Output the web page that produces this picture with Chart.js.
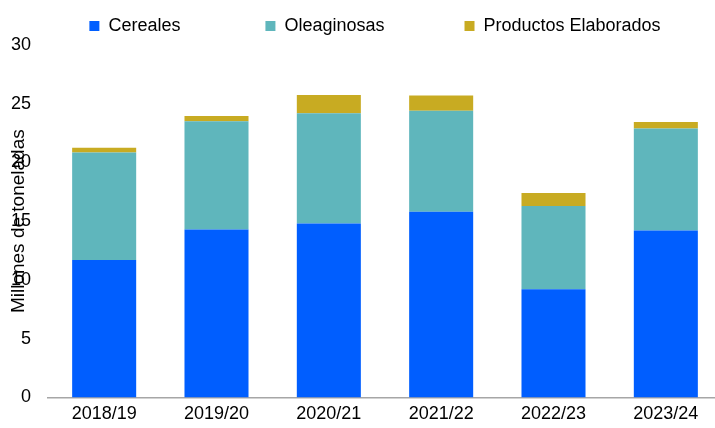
<!DOCTYPE html>
<html>
<head>
<meta charset="utf-8">
<script src="https://cdn.jsdelivr.net/npm/chart.js@4"></script>
<style>
    html, body { margin: 0; padding: 0; background: #fff; overflow: hidden; }
    #wrap { width: 722px; height: 428px; }
</style>
</head>
<body>
<div id="wrap"><canvas id="export-chart"></canvas></div>
<script>
// Exportaciones por campaña (millones de toneladas)
const campaigns = ['2018/19', '2019/20', '2020/21', '2021/22', '2022/23', '2023/24'];
const cereales = [11.7, 14.3, 14.8, 15.8, 9.2, 14.2];
const oleaginosas = [9.15, 9.2, 9.4, 8.6, 7.1, 8.7];
const elaborados = [0.4, 0.45, 1.55, 1.3, 1.1, 0.55];
const yTicks = [0, 5, 10, 15, 20, 25, 30];
const yTitle = 'Millones de toneladas';

// spacing between legend entries, as trailing blanks
const legendGaps = [15, 14, 4];

const fontFamily = '"Liberation Sans", Arial, sans-serif';

// y title overlaps the tick labels in the original, so it is drawn by hand
const yTitlePlugin = {
    id: 'yTitle',
    afterDraw(chart) {
        const ctx = chart.ctx;
        const area = chart.chartArea;
        ctx.save();
        ctx.font = '19px ' + fontFamily;
        ctx.fillStyle = '#000';
        ctx.textAlign = 'center';
        ctx.textBaseline = 'middle';
        ctx.translate(19, (area.top + area.bottom) / 2);
        ctx.rotate(-Math.PI / 2);
        ctx.fillText(yTitle, 0, 0);
        ctx.restore();
    }
};

const ctx = document.getElementById('export-chart').getContext('2d');

new Chart(ctx, {
    type: 'bar',
    data: {
        labels: campaigns,
        datasets: [{
            label: 'Cereales',
            data: cereales,
            backgroundColor: '#005EFF'
        }, {
            label: 'Oleaginosas',
            data: oleaginosas,
            backgroundColor: '#5FB6BC'
        }, {
            label: 'Productos Elaborados',
            data: elaborados,
            backgroundColor: '#C8AB22'
        }]
    },
    options: {
        responsive: true,
        maintainAspectRatio: false,
        animation: false,
        datasets: {
            bar: { barPercentage: 0.57, categoryPercentage: 1 }
        },
        layout: {
            padding: { top: 7, left: 11, right: 0, bottom: -3 }
        },
        plugins: {
            legend: {
                display: true,
                position: 'top',
                fullSize: false,
                labels: {
                    color: '#000',
                    font: { family: fontFamily, size: 18 },
                    boxWidth: 10,
                    boxHeight: 10,
                    padding: 10,
                    generateLabels(chart) {
                        const items = Chart.defaults.plugins.legend.labels.generateLabels(chart);
                        items.forEach((item, i) => {
                            item.text = item.text + ' '.repeat(legendGaps[i]);
                            item.lineWidth = 0;
                        });
                        return items;
                    }
                }
            },
            tooltip: { enabled: false }
        },
        scales: {
            x: {
                stacked: true,
                grid: { display: false, drawTicks: false },
                border: { display: true, color: '#A6A6A6', width: 1.5 },
                ticks: { color: '#000', font: { family: fontFamily, size: 18 }, padding: 6, maxRotation: 0 }
            },
            y: {
                stacked: true,
                min: yTicks[0],
                max: yTicks[yTicks.length - 1],
                afterBuildTicks(scale) {
                    scale.ticks = yTicks.map(v => ({ value: v }));
                },
                afterFit(scale) {
                    scale.width = 37;
                },
                grid: { display: false, drawTicks: false },
                border: { display: false },
                ticks: { color: '#000', font: { family: fontFamily, size: 18 }, padding: 17 }
            }
        }
    },
    plugins: [yTitlePlugin]
});
</script>
</body>
</html>
